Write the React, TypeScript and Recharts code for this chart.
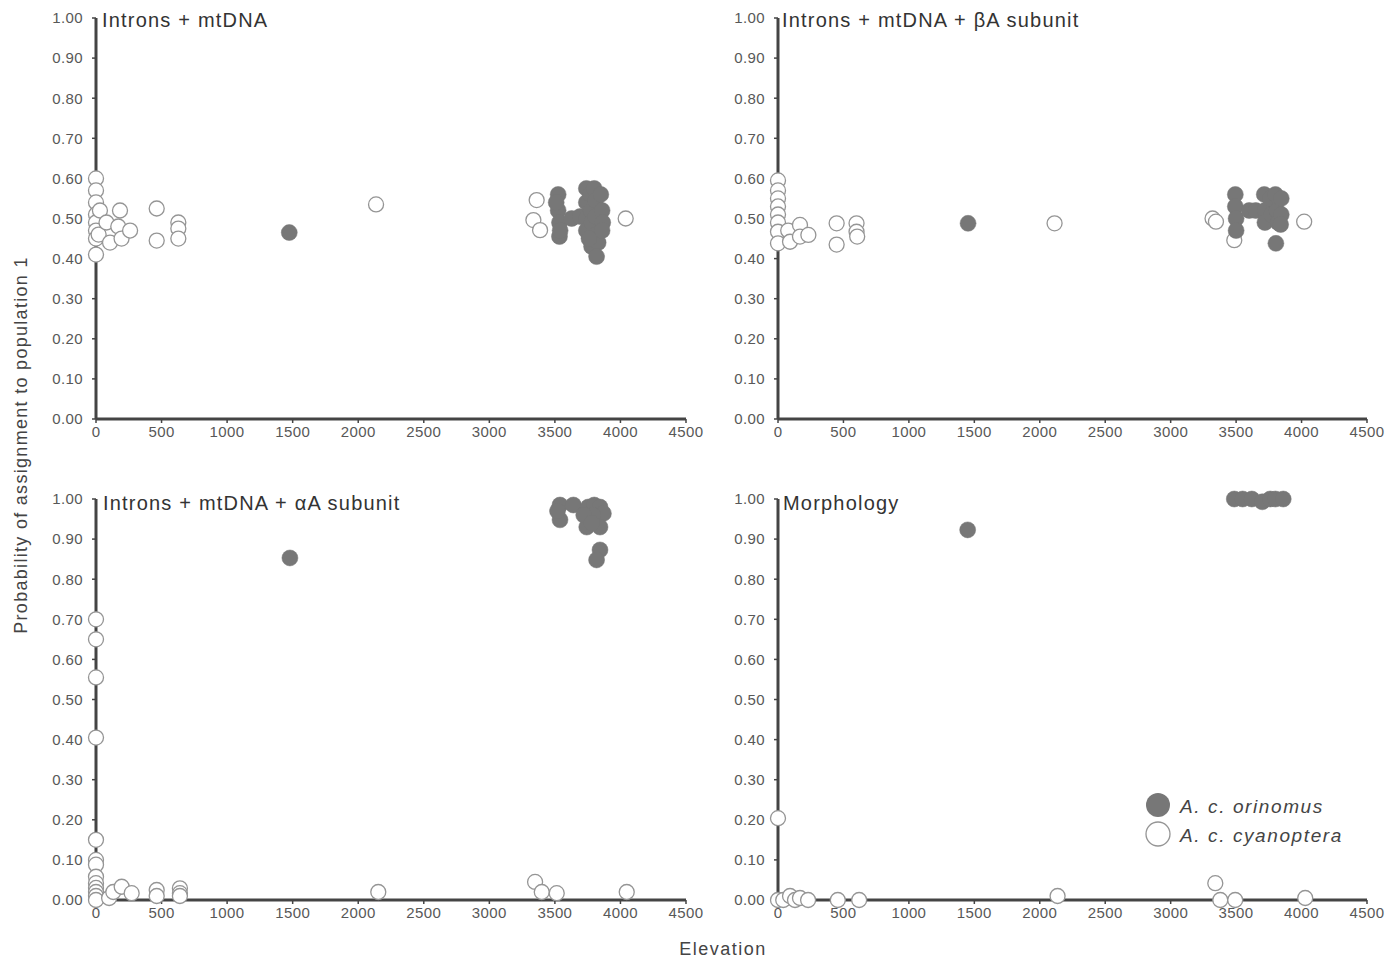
import React from 'react';
import { ScatterChart, Scatter, XAxis, YAxis } from 'recharts';

const FONT = '"Liberation Sans", Arial, Helvetica, sans-serif';

const xTicks = [0, 500, 1000, 1500, 2000, 2500, 3000, 3500, 4000, 4500];
const yTicks = [0, 0.1, 0.2, 0.3, 0.4, 0.5, 0.6, 0.7, 0.8, 0.9, 1.0];

const panelTitles = [
  'Introns + mtDNA',
  'Introns + mtDNA + \u03B2A subunit',
  'Introns + mtDNA + \u03B1A subunit',
  'Morphology',
];

const seriesNames = ['A. c. orinomus', 'A. c. cyanoptera'];

// [elevation, probability]
const p1Cyanoptera: number[][] = [
  [0, 0.6], [0, 0.57], [0, 0.54], [0, 0.51], [0, 0.49], [0, 0.47], [0, 0.45], [0, 0.41],
  [20, 0.46], [30, 0.52], [80, 0.49], [107, 0.44], [170, 0.48], [183, 0.52], [195, 0.45],
  [260, 0.47], [463, 0.525], [463, 0.445], [628, 0.49], [628, 0.475], [628, 0.45],
  [2136, 0.535], [3361, 0.546], [3336, 0.496], [3387, 0.471], [4040, 0.5],
];
const p1Orinomus: number[][] = [
  [1474, 0.465],
  [3525, 0.56], [3525, 0.52], [3535, 0.49], [3535, 0.455], [3510, 0.54], [3540, 0.47],
  [3628, 0.5], [3692, 0.505], [3740, 0.575], [3740, 0.54], [3740, 0.5], [3740, 0.47],
  [3770, 0.56], [3775, 0.52], [3780, 0.49], [3780, 0.43], [3800, 0.575], [3810, 0.545],
  [3810, 0.505], [3815, 0.46], [3830, 0.44], [3818, 0.405], [3850, 0.56], [3860, 0.52],
  [3865, 0.49], [3860, 0.47], [3760, 0.45],
];

const p2Cyanoptera: number[][] = [
  [0, 0.595], [0, 0.57], [0, 0.55], [0, 0.53], [0, 0.51], [0, 0.49], [0, 0.467], [0, 0.438],
  [78, 0.47], [92, 0.442], [168, 0.484], [168, 0.455], [232, 0.459], [448, 0.488], [448, 0.435],
  [600, 0.488], [600, 0.467], [605, 0.455], [2113, 0.488], [3320, 0.5], [3346, 0.492],
  [3486, 0.446], [4020, 0.492],
];
const p2Orinomus: number[][] = [
  [1452, 0.488],
  [3494, 0.56], [3494, 0.53], [3500, 0.5], [3500, 0.47], [3600, 0.52], [3650, 0.52],
  [3715, 0.56], [3720, 0.52], [3720, 0.49], [3760, 0.55], [3770, 0.51], [3800, 0.56],
  [3810, 0.52], [3820, 0.49], [3845, 0.55], [3845, 0.51], [3840, 0.485], [3804, 0.438],
];

const p3Cyanoptera: number[][] = [
  [0, 0.7], [0, 0.65], [0, 0.555], [0, 0.405], [0, 0.15], [0, 0.1], [0, 0.088], [0, 0.058],
  [0, 0.042], [0, 0.03], [0, 0.02], [0, 0.01], [0, 0.0], [100, 0.005], [132, 0.02],
  [196, 0.033], [272, 0.017], [463, 0.025], [463, 0.01], [640, 0.029], [640, 0.017],
  [640, 0.01], [2153, 0.02], [3349, 0.045], [3400, 0.02], [3514, 0.017], [4048, 0.02],
];
const p3Orinomus: number[][] = [
  [1479, 0.853], [3539, 0.985], [3539, 0.948], [3520, 0.97], [3641, 0.985], [3755, 0.98],
  [3743, 0.93], [3800, 0.985], [3844, 0.98], [3870, 0.964], [3844, 0.93], [3790, 0.96],
  [3720, 0.96], [3780, 0.94], [3844, 0.873], [3818, 0.848],
];

const p4Cyanoptera: number[][] = [
  [0, 0.204], [0, 0.0], [40, 0.0], [92, 0.01], [130, 0.0], [168, 0.005], [230, 0.0],
  [457, 0.0], [620, 0.0], [2136, 0.01], [3341, 0.042], [3379, 0.0], [3493, 0.0], [4028, 0.005],
];
const p4Orinomus: number[][] = [
  [1449, 0.923], [3486, 1.0], [3550, 1.0], [3620, 1.0], [3700, 0.993], [3760, 1.0],
  [3800, 1.0], [3860, 1.0],
];

const toPoints = (arr: number[][]) => arr.map(([x, y]) => ({ x, y }));

const FILL = '#777777';
const OPEN_STROKE = '#959595';
const AXIS = '#444444';
const TICK_TEXT = '#585858';

const FilledDot = (props: any) => (
  <circle cx={props.cx} cy={props.cy} r={8} fill={FILL} stroke={FILL} strokeWidth={0.5} />
);
const OpenDot = (props: any) => (
  <circle cx={props.cx} cy={props.cy} r={7.5} fill="#ffffff" stroke={OPEN_STROKE} strokeWidth={1.3} />
);

type PanelProps = {
  left: number;
  top: number;
  width: number;
  height: number;
  margin: { top: number; right: number; bottom: number; left: number };
  cyan: number[][];
  orin: number[][];
};

function Panel({ left, top, width, height, margin, cyan, orin }: PanelProps) {
  const tickStyle = { fill: TICK_TEXT, fontSize: 15, fontFamily: FONT, letterSpacing: 0.4 };
  return (
    <div style={{ position: 'absolute', left, top, width, height }}>
      <ScatterChart width={width} height={height} margin={margin}>
        <XAxis
          type="number"
          dataKey="x"
          domain={[0, 4500]}
          ticks={xTicks}
          interval={0}
          tick={tickStyle}
          tickSize={4}
          tickMargin={3}
          height={25}
          axisLine={{ stroke: AXIS, strokeWidth: 3 }}
          tickLine={{ stroke: AXIS, strokeWidth: 1.5 }}
        />
        <YAxis
          type="number"
          dataKey="y"
          domain={[0, 1]}
          ticks={yTicks}
          interval={0}
          tickFormatter={(v: number) => v.toFixed(2)}
          tick={tickStyle}
          tickSize={4}
          tickMargin={9}
          width={60}
          axisLine={{ stroke: AXIS, strokeWidth: 3 }}
          tickLine={{ stroke: AXIS, strokeWidth: 1.5 }}
        />
        <Scatter
          name={seriesNames[1]}
          data={toPoints(cyan)}
          shape={OpenDot}
          isAnimationActive={false}
        />
        <Scatter
          name={seriesNames[0]}
          data={toPoints(orin)}
          shape={FilledDot}
          isAnimationActive={false}
        />
      </ScatterChart>
    </div>
  );
}

export default function App() {
  const titleStyle = { fontFamily: FONT, fontSize: 20, letterSpacing: 1.2, fill: '#333333' } as const;
  return (
    <div
      style={{
        position: 'absolute',
        left: 0,
        top: 0,
        width: 1396,
        height: 962,
        background: '#ffffff',
        overflow: 'hidden',
      }}
    >
      <Panel
        left={0}
        top={0}
        width={720}
        height={450}
        margin={{ top: 18, right: 34, bottom: 6, left: 36 }}
        cyan={p1Cyanoptera}
        orin={p1Orinomus}
      />
      <Panel
        left={690}
        top={0}
        width={706}
        height={450}
        margin={{ top: 18, right: 29, bottom: 6, left: 28 }}
        cyan={p2Cyanoptera}
        orin={p2Orinomus}
      />
      <Panel
        left={0}
        top={470}
        width={720}
        height={460}
        margin={{ top: 29, right: 34, bottom: 5, left: 36 }}
        cyan={p3Cyanoptera}
        orin={p3Orinomus}
      />
      <Panel
        left={690}
        top={470}
        width={706}
        height={460}
        margin={{ top: 29, right: 29, bottom: 5, left: 28 }}
        cyan={p4Cyanoptera}
        orin={p4Orinomus}
      />
      <svg
        width={1396}
        height={962}
        style={{ position: 'absolute', left: 0, top: 0, pointerEvents: 'none' }}
      >
        <text x={102} y={27} {...titleStyle}>{panelTitles[0]}</text>
        <text x={782} y={27} {...titleStyle}>{panelTitles[1]}</text>
        <text x={103} y={510} {...titleStyle}>{panelTitles[2]}</text>
        <text x={783} y={510} {...titleStyle}>{panelTitles[3]}</text>
        <text
          x={0}
          y={0}
          transform="translate(27, 445) rotate(-90)"
          textAnchor="middle"
          fontFamily={FONT}
          fontSize={18}
          letterSpacing={1.3}
          fill="#444444"
        >
          Probability of assignment to population 1
        </text>
        <text
          x={723}
          y={955}
          textAnchor="middle"
          fontFamily={FONT}
          fontSize={18}
          letterSpacing={1.5}
          fill="#444444"
        >
          Elevation
        </text>
        <circle cx={1158} cy={805} r={12} fill={FILL} />
        <circle cx={1158} cy={834} r={12} fill="#ffffff" stroke={OPEN_STROKE} strokeWidth={1.3} />
        <text x={1180} y={813} fontFamily={FONT} fontSize={19} fontStyle="italic" letterSpacing={1.6} fill="#444444">
          {seriesNames[0]}
        </text>
        <text x={1180} y={842} fontFamily={FONT} fontSize={19} fontStyle="italic" letterSpacing={1.6} fill="#444444">
          {seriesNames[1]}
        </text>
      </svg>
    </div>
  );
}
